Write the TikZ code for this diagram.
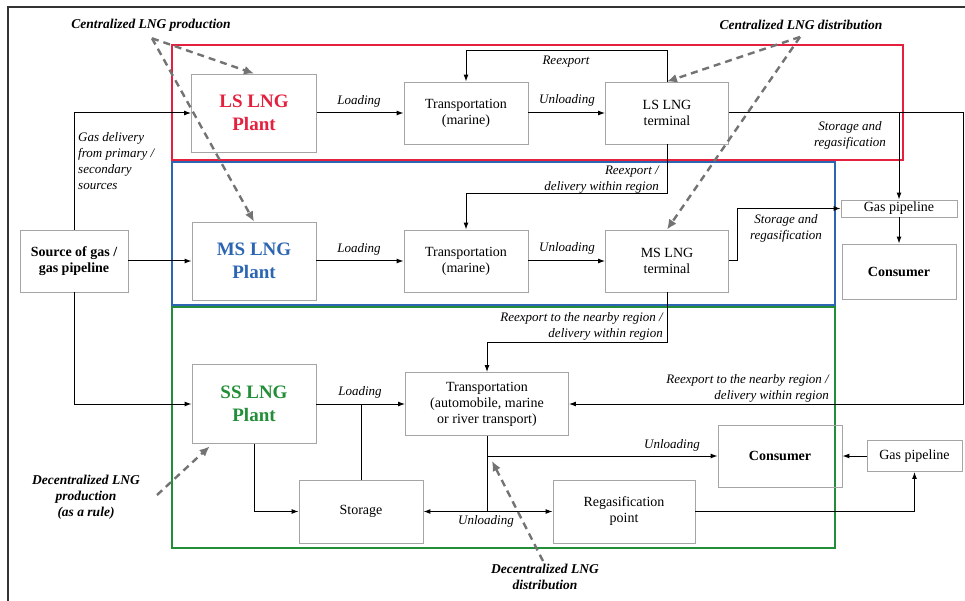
\documentclass[tikz,border=0pt]{standalone}
\usepackage{fontspec}
\setmainfont{LiberationSerif}[Extension=.ttf, UprightFont=*-Regular, BoldFont=*-Bold, ItalicFont=*-Italic, BoldItalicFont=*-BoldItalic]
\usetikzlibrary{calc}
\usetikzlibrary{arrows.meta}

\begin{document}
\begin{tikzpicture}[x=1pt, y=-1pt, >={Latex[length=7pt, width=5pt]}]
    \definecolor{lsred}{RGB}{228, 32, 62}
    \definecolor{msblue}{RGB}{44, 102, 178}
    \definecolor{ssgreen}{RGB}{34, 142, 56}
    \definecolor{boxgrey}{RGB}{165, 165, 165}
    \definecolor{hintgrey}{RGB}{115, 115, 115}

    \tikzstyle{box}=[draw=boxgrey, line width=0.9pt, inner sep=0pt, align=center, font=\fontsize{14}{16}\selectfont]
    \tikzstyle{boldbox}=[box, font=\fontsize{14}{16}\selectfont\bfseries]
    \tikzstyle{plant}=[box, font=\fontsize{19}{23}\selectfont\bfseries]
    \tikzstyle{lbl}=[inner sep=0pt, align=center, font=\fontsize{13}{16}\selectfont\itshape]
    \tikzstyle{note}=[inner sep=0pt, align=center, font=\fontsize{13.5}{16}\selectfont\bfseries\itshape]
    \tikzstyle{flow}=[line width=1pt]
    \tikzstyle{hint}=[line width=2.4pt, draw=hintgrey, dash pattern=on 7pt off 5pt, -{Latex[length=10pt, width=9pt]}]

    \useasboundingbox (0,0) rectangle (965,601);
    \draw[line width=1.2pt, black!80] (8,601) -- (8,7) -- (965,7);

    % scale frames
    \draw[line width=2pt, lsred] (172,45) rectangle (903,160);
    \draw[line width=2pt, msblue] (172,162) rectangle (835,305);
    \draw[line width=2pt, ssgreen] (172,307) rectangle (835,548);

    \node[boldbox, minimum width=108pt, minimum height=62pt] (source) at (74,261) {Source of gas /\\gas pipeline};

    \node[plant, text=lsred, minimum width=125pt, minimum height=78pt] (ls_plant) at (254,113) {LS LNG\\Plant};
    \node[box, minimum width=124pt, minimum height=62pt] (ls_trans) at (466,113) {Transportation\\(marine)};
    \node[box, minimum width=123pt, minimum height=62pt] (ls_term) at (667,113) {LS LNG\\terminal};

    \node[plant, text=msblue, minimum width=124pt, minimum height=78pt] (ms_plant) at (254,261) {MS LNG\\Plant};
    \node[box, minimum width=124pt, minimum height=62pt] (ms_trans) at (466,261) {Transportation\\(marine)};
    \node[box, minimum width=123pt, minimum height=62pt] (ms_term) at (667,261) {MS LNG\\terminal};

    \node[box, minimum width=116pt, minimum height=17pt] (pipe_top) at (899,208.5) {Gas pipeline};
    \node[boldbox, minimum width=114pt, minimum height=55pt] (consumer_top) at (899,271.5) {Consumer};

    \node[plant, text=ssgreen, minimum width=124pt, minimum height=79pt] (ss_plant) at (254,404) {SS LNG\\Plant};
    \node[box, minimum width=163pt, minimum height=63pt] (ss_trans) at (487,404) {Transportation\\(automobile, marine\\or river transport)};
    \node[box, minimum width=124pt, minimum height=63pt] (storage) at (361,511.5) {Storage};
    \node[box, minimum width=142pt, minimum height=63pt] (regas) at (624,511.5) {Regasification\\point};
    \node[boldbox, minimum width=124pt, minimum height=62pt] (consumer_bot) at (780,456) {Consumer};
    \node[box, minimum width=95pt, minimum height=31pt] (pipe_bot) at (914.5,456) {Gas pipeline};

    % supply lines
    \draw[flow, ->] (source.north) |- (ls_plant.west);
    \draw[flow, ->] (source.east) -- (ms_plant.west);
    \draw[flow, ->] (source.south) |- (ss_plant.west);

    % large scale
    \draw[flow, ->] (ls_plant) -- (ls_trans);
    \draw[flow, ->] (ls_trans) -- (ls_term);
    \draw[flow, ->] (ls_term.north) -- ++(0,-31) -| (ls_trans.north);
    \draw[flow, ->] (ls_term.south) -- ++(0,49) -| (ms_trans.north);
    \coordinate (east_turn) at (963,113);
    \draw[flow, ->] (ls_term.east) -- (east_turn) |- (ss_trans.east);
    \draw[flow, ->] (ls_term.east -| pipe_top.north) -- (pipe_top.north);
    \draw[flow, ->] (pipe_top) -- (consumer_top);

    % medium scale
    \draw[flow, ->] (ms_plant) -- (ms_trans);
    \draw[flow, ->] (ms_trans) -- (ms_term);
    \draw[flow, ->] (ms_term.east) -- ++(9,0) |- (pipe_top.west);
    \draw[flow, ->] (ms_term.south) -- ++(0,50) -| (ss_trans.north);

    % small scale
    \draw[flow, ->] (ss_plant) -- (ss_trans);
    \draw[flow] (storage.north) -- (storage.north |- ss_trans.west);
    \draw[flow, ->] (ss_plant.south) |- (storage.west);
    \draw[flow] (ss_trans.south) -- (ss_trans.south |- storage.east);
    \draw[flow, ->] (ss_trans.south |- storage.east) -- (storage.east);
    \draw[flow, ->] (ss_trans.south |- regas.west) -- (regas.west);
    \draw[flow, ->] (ss_trans.south |- consumer_bot.west) -- (consumer_bot.west);
    \draw[flow, ->] (regas.east) -| (pipe_bot.south);
    \draw[flow, ->] (pipe_bot) -- (consumer_bot);

    % labels on the lines
    \node[lbl] (load_ls) at (359,101) {Loading};
    \node[lbl] (unload_ls) at (567,100) {Unloading};
    \node[lbl] (reexp_ls) at (566,62) {Reexport};
    \node[lbl, anchor=west, align=left] (gas_src) at (78,161) {Gas delivery\\from primary /\\secondary\\sources};
    \node[lbl] (store_ls) at (850,135) {Storage and\\regasification};
    \node[lbl, anchor=east, align=right] (reexp_ms) at (659,180) {Reexport /\\delivery within region};
    \node[lbl] (load_ms) at (359,249) {Loading};
    \node[lbl] (unload_ms) at (567,248) {Unloading};
    \node[lbl] (store_ms) at (786,228.5) {Storage and\\regasification};
    \node[lbl, anchor=east, align=right] (reexp_ss) at (663,326) {Reexport to the nearby region /\\delivery within region};
    \node[lbl, anchor=east, align=right] (reexp_far) at (829,388) {Reexport to the nearby region /\\delivery within region};
    \node[lbl] (load_ss) at (360,392) {Loading};
    \node[lbl] (unload_cons) at (672,445) {Unloading};
    \node[lbl] (unload_st) at (486,521) {Unloading};

    % scale notes
    \node[note] (cen_prod) at (151,25) {Centralized LNG production};
    \node[note] (cen_dist) at (801,25) {Centralized LNG distribution};
    \node[note] (dec_prod) at (86,497) {Decentralized LNG\\production\\(as a rule)};
    \node[note] (dec_dist) at (545,577) {Decentralized LNG\\distribution};

    \coordinate (cp_start) at ($(cen_prod.south)+(1,7)$);
    \coordinate (cd_start) at ($(cen_dist.south)+(-1,7)$);
    \coordinate (dp_start) at (157,495);
    \coordinate (dp_end) at ($(ss_plant.south west)+(18,2.5)$);
    \coordinate (dd_start) at ($(dec_dist.north)+(-2,-3)$);
    \coordinate (dd_end) at ($(ss_trans.south)+(5,25)$);

    \draw[hint] (cp_start) -- (ls_plant.north);
    \draw[hint] (cp_start) -- (ms_plant.north);
    \draw[hint] (cd_start) -- (ls_term.north);
    \draw[hint] (cd_start) -- (ms_term.north);
    \draw[hint] (dp_start) -- (dp_end);
    \draw[hint] (dd_start) -- (dd_end);
\end{tikzpicture}
\end{document}
